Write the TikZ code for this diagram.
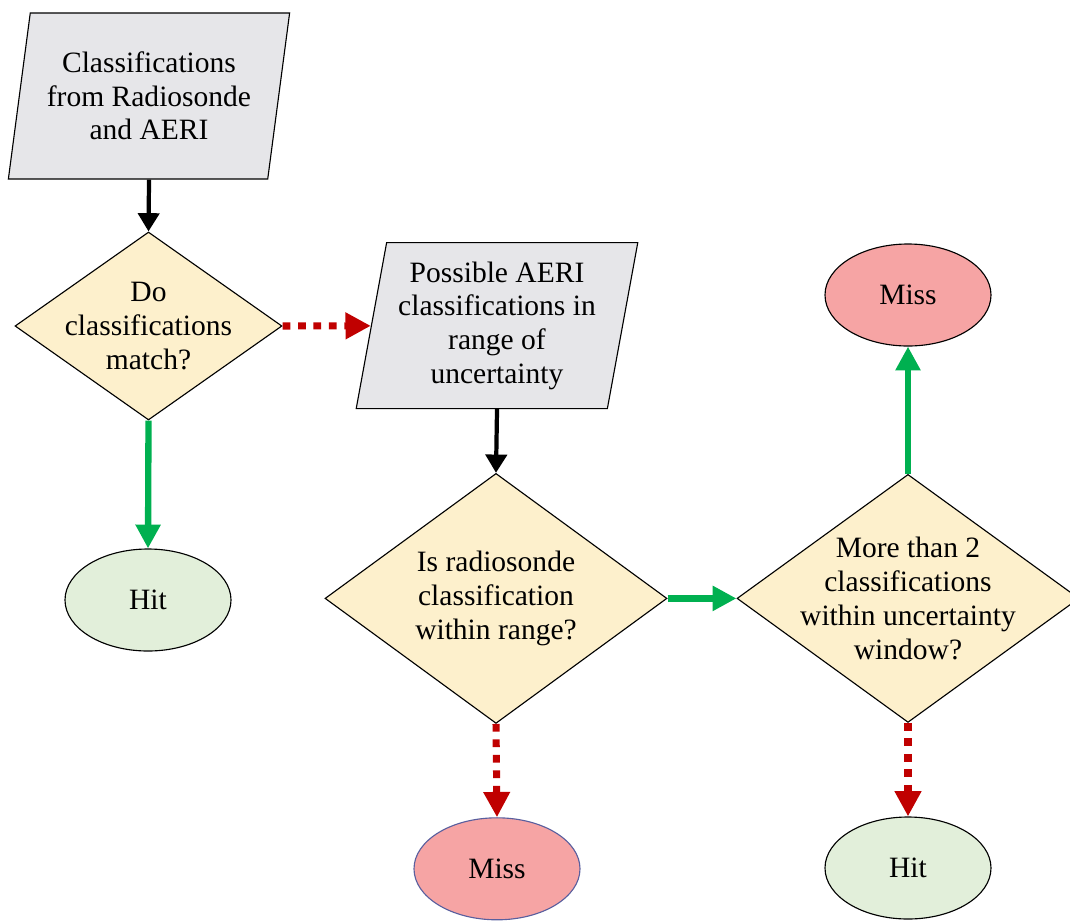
\documentclass[tikz,border=0pt]{standalone}
\usepackage{fontspec}
\setmainfont{Liberation Serif}
\usetikzlibrary{shapes.geometric,arrows.meta}
\definecolor{iogray}{HTML}{E6E6E9}
\definecolor{askyellow}{HTML}{FDF0CC}
\definecolor{misspink}{HTML}{F6A4A4}
\definecolor{hitgreen}{HTML}{E2EFDA}
\definecolor{yesgreen}{HTML}{00B050}
\definecolor{nored}{HTML}{C00000}
\definecolor{missedge}{HTML}{5A5F9E}
\begin{document}
\begin{tikzpicture}[
  every node/.style={font=\fontsize{21}{24}\selectfont, align=center, inner sep=0pt},
  io/.style={trapezium, trapezium left angle=78, trapezium right angle=102, trapezium stretches=true,
    draw=black, line width=0.8pt, fill=iogray, minimum width=7.05cm, minimum height=4.15cm},
  ask/.style={diamond, draw=black, line width=0.8pt, fill=askyellow, inner sep=-10pt, aspect=1.38},
  result/.style={ellipse, draw=black, line width=0.8pt, minimum width=4.15cm, minimum height=2.55cm},
  plain/.style={draw=black, line width=3pt, -{Triangle[width=15pt,length=13pt]}},
  yes/.style={draw=yesgreen, line width=4.5pt, -{Triangle[width=17pt,length=17pt]}},
  no/.style={draw=nored, line width=5pt, dash pattern=on 5.5pt off 5.5pt, -{Triangle[width=18pt,length=18pt]}}]
\useasboundingbox (0,0) rectangle (26.75,-23.025);
\node [io] (input) at (3.725,-2.4) {Classifications\\from Radiosonde\\and AERI};
\node [ask, minimum width=6.675cm, minimum height=4.7cm, aspect=1.42] (match) at (3.7125,-8.15) {Do\\classifications\\match?};
\node [io] (range) at (12.425,-8.14) {Possible AERI\\classifications in\\range of\\uncertainty};
\node [result, fill=hitgreen] (hitA) at (3.7,-15.0) {Hit};
\node [ask, minimum width=8.55cm, minimum height=6.25cm] (within) at (12.4,-14.96) {Is radiosonde\\classification\\within range?};
\node [ask, minimum width=8.55cm, minimum height=6.2cm] (window) at (22.7,-14.96) {More than 2\\classifications\\within uncertainty\\window?};
\node [result, fill=misspink] (missA) at (22.7,-7.375) {Miss};
\node [result, fill=misspink, draw=missedge] (missB) at (12.425,-21.72) {Miss};
\node [result, fill=hitgreen] (hitB) at (22.7,-21.7) {Hit};
\draw [plain] (input.south) -- (match.north);
\draw [no] (match.east) -- (range);
\draw [yes] (match.south) -- (hitA.north);
\draw [plain] (range.south) -- (within.north);
\draw [yes] (within.east) -- (window.west);
\draw [yes] (window.north) -- (missA.south);
\draw [no] (within.south) -- (missB.north);
\draw [no] (window.south) -- (hitB.north);
\end{tikzpicture}
\end{document}
